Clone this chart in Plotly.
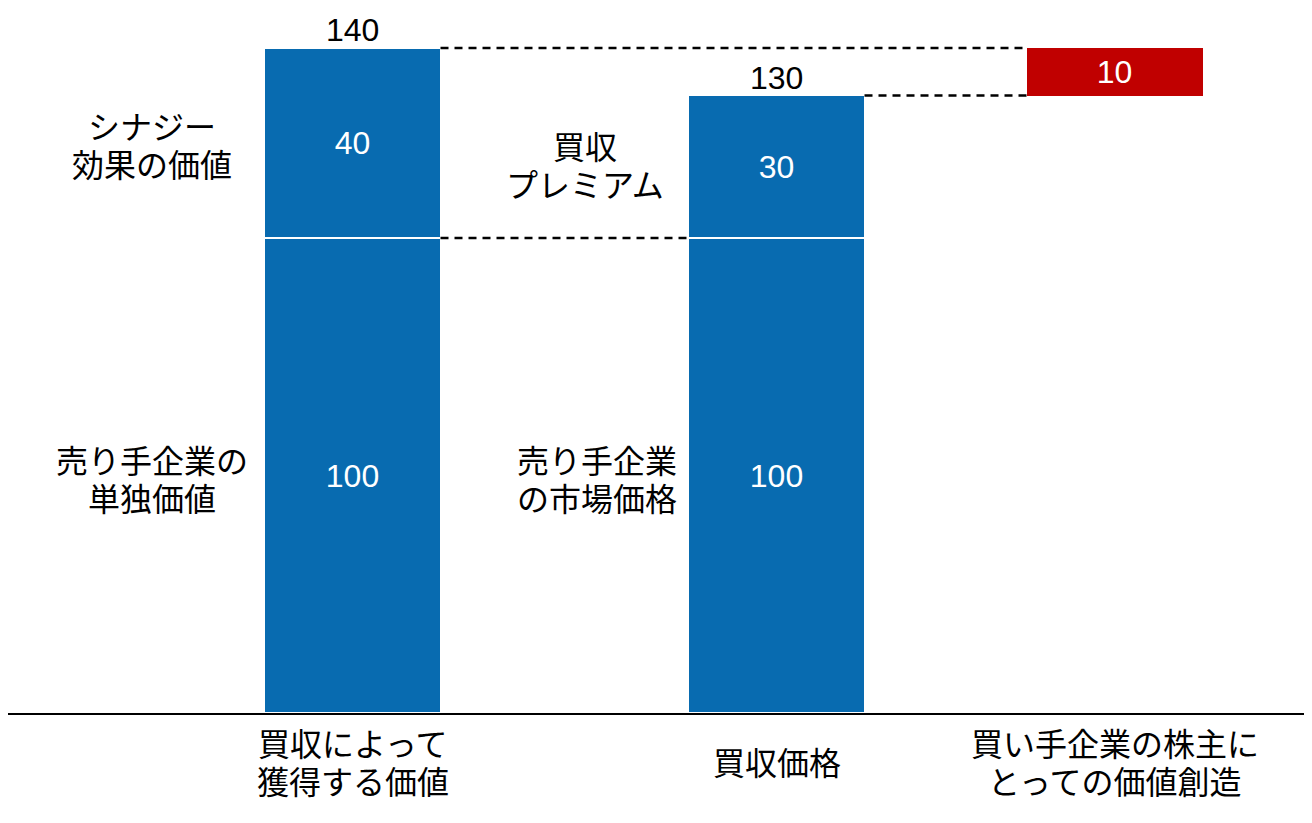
import plotly.graph_objects as go

# ---- data ----
categories = ["買収によって<br>獲得する価値", "買収価格", "買い手企業の株主に<br>とっての価値創造"]
base_values = [100, 100]          # 売り手企業の単独価値 / 市場価格
top_values = [40, 30]             # シナジー効果 / 買収プレミアム
totals = [140, 130]
creation_value = 10
segment_labels_base = ["売り手企業の<br>単独価値", "売り手企業<br>の市場価格"]
segment_labels_top = ["シナジー<br>効果の価値", "買収<br>プレミアム"]

# ---- layout helpers (positions on a pixel-like numeric x axis) ----
x_pos = [352.5, 776.5, 1114.5]
bar_w = 176
blue = "#086BB0"
red = "#C00000"
FONT = "Liberation Sans, Arial, Noto Sans CJK JP"
fs = 32
line_gap = 38

fig = go.Figure()
fig.add_trace(go.Bar(x=x_pos[:2], y=base_values, width=bar_w, marker=dict(color=blue, line=dict(color="white", width=1.5)),
                     text=[str(v) for v in base_values], textposition="inside", insidetextanchor="middle",
                     textfont=dict(color="white", size=fs, family=FONT), showlegend=False, hoverinfo="skip"))
fig.add_trace(go.Bar(x=x_pos[:2], y=top_values, width=bar_w, marker=dict(color=blue, line=dict(color="white", width=1.5)),
                     text=[str(v) for v in top_values], textposition="inside", insidetextanchor="middle",
                     textfont=dict(color="white", size=fs, family=FONT), showlegend=False, hoverinfo="skip"))
fig.add_trace(go.Bar(x=[x_pos[2]], y=[creation_value], base=[totals[1]], width=bar_w, marker=dict(color=red, line=dict(width=0)),
                     text=[str(creation_value)], textposition="inside", insidetextanchor="middle",
                     textfont=dict(color="white", size=fs, family=FONT), showlegend=False, hoverinfo="skip"))

annotations = []


def add_multiline(x, y, text, shift=0, xanchor="center"):
    lines = text.split("<br>")
    n = len(lines)
    for k, ln in enumerate(lines):
        off = ((n - 1) / 2 - k) * line_gap
        annotations.append(dict(x=x, y=y, text=ln, showarrow=False, xanchor=xanchor, yanchor="middle",
                                yshift=shift + off, font=dict(size=fs, color="black", family=FONT)))


for i in range(2):
    annotations.append(dict(x=x_pos[i], y=totals[i], text=str(totals[i]), showarrow=False, yanchor="bottom",
                            yshift=-2, font=dict(size=fs, color="black", family=FONT)))
# segment labels
add_multiline(152, base_values[0] + top_values[0] / 2, segment_labels_top[0], shift=-4)
add_multiline(152, base_values[0] / 2, segment_labels_base[0], shift=-5)
add_multiline(585, base_values[1] + top_values[1] / 2, segment_labels_top[1], shift=0)
add_multiline(515, base_values[1] / 2, segment_labels_base[1], shift=-5, xanchor="left")
# category labels
for xp, c in zip(x_pos, categories):
    add_multiline(xp, 0, c, shift=-51)

dash_style = dict(color="black", width=2.5, dash="8px,6px")
shapes = [
    dict(type="line", x0=x_pos[0] + bar_w / 2, x1=x_pos[2] - bar_w / 2, y0=totals[0], y1=totals[0], line=dash_style),
    dict(type="line", x0=x_pos[1] + bar_w / 2, x1=x_pos[2] - bar_w / 2, y0=totals[1], y1=totals[1], line=dash_style),
    dict(type="line", x0=x_pos[0] + bar_w / 2, x1=x_pos[1] - bar_w / 2, y0=base_values[0], y1=base_values[0], line=dash_style),
]

fig.update_layout(
    barmode="stack",
    width=1304, height=815,
    margin=dict(l=0, r=0, t=0, b=110),
    paper_bgcolor="white", plot_bgcolor="white",
    xaxis=dict(range=[8, 1312], showgrid=False, zeroline=False, showticklabels=False, ticks="",
               showline=True, linecolor="black", linewidth=2, fixedrange=True),
    yaxis=dict(range=[0, 148.42], showgrid=False, zeroline=False, showticklabels=False, ticks="",
               showline=False, fixedrange=True),
    annotations=annotations,
    shapes=shapes,
    font=dict(family=FONT),
)
fig.write_html("out.html")
